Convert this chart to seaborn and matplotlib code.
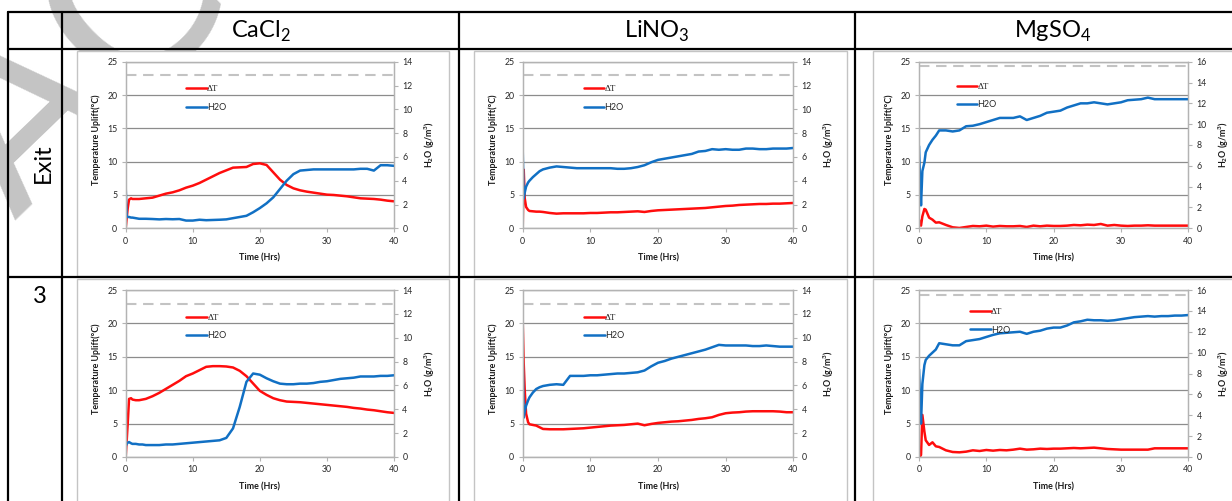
import matplotlib
matplotlib.use("Agg")
import matplotlib.pyplot as plt
import seaborn as sns
from matplotlib.lines import Line2D
from matplotlib.patches import Rectangle

# ---------------------------------------------------------------- data
salts = ["CaCl$_\\mathregular{2}$", "LiNO$_\\mathregular{3}$", "MgSO$_\\mathregular{4}$"]
positions = ["Exit", "3"]

hours = [0, 0.15, 0.3, 0.5, 0.8, 1, 1.5, 2, 2.5, 3,
         4, 5, 6, 7, 8, 9, 10, 11, 12, 13, 14, 15, 16, 17, 18, 19, 20,
         21, 22, 23, 24, 25, 26, 27, 28, 29, 30, 31, 32, 33, 34, 35, 36,
         37, 38, 39, 40]

# temperature uplift (degC)
dT_cacl2_exit = [0, 1.5, 3.0, 4.3, 4.5, 4.4, 4.4, 4.4, 4.45, 4.5,
                 4.6, 4.9, 5.2, 5.4, 5.7, 6.1, 6.4, 6.8, 7.3, 7.8, 8.3, 8.7, 9.1,
                 9.15, 9.2, 9.65, 9.75, 9.5, 8.4, 7.3, 6.5, 6.0, 5.7, 5.5, 5.35,
                 5.2, 5.05, 5.0, 4.9, 4.8, 4.65, 4.5, 4.45, 4.4, 4.3, 4.15, 4.05]
dT_lino3_exit = [0, 8.8, 4.5, 3.2, 2.75, 2.6, 2.55, 2.5, 2.5, 2.45,
                 2.3, 2.2, 2.25, 2.25, 2.25, 2.25, 2.3, 2.3, 2.35, 2.4, 2.4, 2.45,
                 2.5, 2.55, 2.45, 2.6, 2.7, 2.75, 2.8, 2.85, 2.9, 2.95, 3.0, 3.05,
                 3.15, 3.25, 3.35, 3.4, 3.5, 3.55, 3.6, 3.65, 3.65, 3.7, 3.7, 3.75, 3.8]
dT_mgso4_exit = [1.3, 0.6, 0.4, 1.8, 2.9, 2.8, 1.6, 1.3, 0.85, 0.9,
                 0.5, 0.15, 0.05, 0.2, 0.35, 0.3, 0.4, 0.25, 0.35, 0.3, 0.3, 0.35,
                 0.2, 0.4, 0.3, 0.4, 0.35, 0.35, 0.4, 0.5, 0.45, 0.55, 0.5, 0.65,
                 0.4, 0.5, 0.4, 0.35, 0.4, 0.4, 0.45, 0.4, 0.4, 0.4, 0.4, 0.4, 0.4]
dT_cacl2_3 = [0, 2.5, 5.0, 8.7, 8.8, 8.6, 8.5, 8.5, 8.6, 8.7,
              9.1, 9.6, 10.2, 10.8, 11.4, 12.1, 12.5, 13.0, 13.5, 13.6, 13.6, 13.55,
              13.4, 12.9, 12.1, 11.0, 9.9, 9.3, 8.8, 8.5, 8.3, 8.25, 8.2, 8.1, 8.0,
              7.9, 7.8, 7.7, 7.6, 7.5, 7.35, 7.25, 7.1, 7.0, 6.85, 6.7, 6.6]
dT_lino3_3 = [20.3, 14.0, 10.0, 6.5, 5.2, 4.9, 4.8, 4.7, 4.45, 4.2,
              4.15, 4.15, 4.15, 4.2, 4.25, 4.3, 4.4, 4.5, 4.6, 4.7, 4.75, 4.8,
              4.9, 5.0, 4.75, 4.95, 5.1, 5.2, 5.3, 5.35, 5.45, 5.55, 5.7, 5.8,
              5.95, 6.3, 6.55, 6.65, 6.7, 6.8, 6.85, 6.85, 6.85, 6.85, 6.8, 6.7, 6.7]
dT_mgso4_3 = [0, 0.1, 0.3, 6.3, 3.8, 2.5, 1.8, 2.2, 1.6, 1.5,
              1.0, 0.75, 0.7, 0.8, 1.0, 0.9, 1.05, 0.95, 1.05, 1.0, 1.1, 1.25,
              1.1, 1.15, 1.25, 1.2, 1.25, 1.25, 1.3, 1.35, 1.3, 1.35, 1.4, 1.3,
              1.2, 1.15, 1.1, 1.1, 1.1, 1.1, 1.1, 1.3, 1.3, 1.3, 1.3, 1.3, 1.3]

# water content of the outlet air (g/m3)
h2o_cacl2_exit = [3.4, 1.0, 0.95, 0.95, 0.9, 0.9, 0.85, 0.8, 0.8, 0.8,
                  0.78, 0.75, 0.78, 0.76, 0.78, 0.65, 0.65, 0.72, 0.68, 0.7, 0.72,
                  0.75, 0.85, 0.95, 1.05, 1.35, 1.7, 2.1, 2.6, 3.3, 4.0, 4.55, 4.85,
                  4.9, 4.95, 4.95, 4.95, 4.95, 4.95, 4.95, 4.95, 5.0, 5.0, 4.85, 5.3,
                  5.3, 5.25]
h2o_lino3_exit = [6.6, 2.5, 3.0, 3.5, 3.85, 4.0, 4.3, 4.55, 4.8, 4.95,
                  5.1, 5.2, 5.15, 5.1, 5.05, 5.05, 5.05, 5.05, 5.05, 5.05, 5.0, 5.0,
                  5.05, 5.15, 5.3, 5.55, 5.75, 5.85, 5.95, 6.05, 6.15, 6.25, 6.45,
                  6.5, 6.65, 6.6, 6.65, 6.6, 6.6, 6.7, 6.7, 6.65, 6.65, 6.7, 6.7,
                  6.7, 6.75]
h2o_mgso4_exit = [7.9, 4.5, 2.2, 5.5, 6.3, 7.3, 8.0, 8.5, 8.9, 9.4,
                  9.4, 9.3, 9.4, 9.8, 9.85, 10.0, 10.2, 10.4, 10.6, 10.6, 10.6,
                  10.75, 10.4, 10.6, 10.8, 11.1, 11.2, 11.3, 11.6, 11.8, 12.0, 12.0,
                  12.1, 12.0, 11.9, 12.0, 12.1, 12.3, 12.35, 12.4, 12.55, 12.4, 12.4,
                  12.4, 12.4, 12.4, 12.4]
h2o_cacl2_3 = [0.9, 1.1, 1.2, 1.25, 1.15, 1.1, 1.1, 1.05, 1.05, 1.0,
               1.0, 1.0, 1.05, 1.05, 1.1, 1.15, 1.2, 1.25, 1.3, 1.35, 1.4, 1.6,
               2.4, 4.2, 6.3, 7.0, 6.9, 6.6, 6.35, 6.15, 6.1, 6.1, 6.15, 6.15, 6.2,
               6.3, 6.35, 6.45, 6.55, 6.6, 6.65, 6.75, 6.75, 6.75, 6.8, 6.8, 6.85]
h2o_lino3_3 = [8.4, 3.3, 3.8, 4.3, 4.75, 5.0, 5.4, 5.7, 5.85, 5.95,
               6.05, 6.1, 6.05, 6.8, 6.8, 6.8, 6.85, 6.85, 6.9, 6.95, 7.0, 7.0,
               7.05, 7.1, 7.25, 7.6, 7.9, 8.05, 8.25, 8.4, 8.55, 8.7, 8.85, 9.0,
               9.2, 9.4, 9.35, 9.35, 9.35, 9.35, 9.3, 9.3, 9.35, 9.3, 9.25, 9.25,
               9.25]
h2o_mgso4_3 = [8.4, 5.5, 3.2, 7.0, 8.8, 9.3, 9.7, 10.0, 10.3, 10.9,
               10.8, 10.7, 10.7, 11.1, 11.2, 11.3, 11.5, 11.7, 11.85, 11.9, 11.95,
               12.0, 11.8, 12.0, 12.1, 12.3, 12.4, 12.4, 12.6, 12.9, 13.0, 13.15,
               13.1, 13.1, 13.05, 13.1, 13.2, 13.3, 13.4, 13.45, 13.5, 13.45, 13.5,
               13.5, 13.55, 13.55, 13.6]

# inlet humidity reference level (g/m3) and right-axis range per salt
h2o_inlet = [12.85, 12.85, 15.55]
h2o_axis_max = [14, 14, 16]
legend_labels = ["\u0394T", "H2O"]

temperature = [[dT_cacl2_exit, dT_lino3_exit, dT_mgso4_exit],
               [dT_cacl2_3, dT_lino3_3, dT_mgso4_3]]
humidity = [[h2o_cacl2_exit, h2o_lino3_exit, h2o_mgso4_exit],
            [h2o_cacl2_3, h2o_lino3_3, h2o_mgso4_3]]

# ---------------------------------------------------------------- layout (pixels)
W, H = 1232, 501
plot_cols = [(125.7, 394.0), (522.7, 793.3), (919.0, 1188.3)]
plot_rows = [(61.7, 228.3), (290.0, 457.0)]
frame_cols = [(77, 449), (474, 847), (873, 1245)]
frame_rows = [(51, 276), (279, 512)]
table_x = [8, 62, 459, 855]
table_y = [12, 49, 277]
table_right, table_bottom = 1250, 520
# legend anchor (hours, degC of first entry) per panel
legend_at = [[(9.0, 20.75), (9.0, 20.75), (5.6, 21.1)],
             [(9.05, 20.75), (9.1, 20.75), (7.6, 21.6)]]

RED = "#ff0d0d"
BLUE = "#1170c4"
GRID = "#8c8c8c"
SPINE = "#b3b3b3"

sns.set_theme(style="white")
plt.rcParams["font.family"] = ["Lato", "DejaVu Sans"]
plt.rcParams["mathtext.fontset"] = "custom"
plt.rcParams["mathtext.rm"] = "Lato"

fig = plt.figure(figsize=(W / 100, H / 100), dpi=100)
fig.patch.set_facecolor("white")


def fx(x):
    return x / W


def fy(y):
    return 1 - y / H


# watermark behind the table content
fig.text(fx(15), fy(222), "ACCEPTED MANUSCRIPT", rotation=44, rotation_mode="anchor",
         ha="left", va="baseline", fontsize=165, color="#c4c4c4",
         family="DejaVu Sans", zorder=-10)

# table grid
for y in table_y:
    fig.add_artist(Line2D([fx(table_x[0]), fx(table_right)], [fy(y), fy(y)],
                          transform=fig.transFigure, color="black", lw=1.6, zorder=10))
for x in table_x:
    fig.add_artist(Line2D([fx(x), fx(x)], [fy(table_y[0]), fy(table_bottom)],
                          transform=fig.transFigure, color="black", lw=1.6, zorder=10))

# column and row headings
for j, salt in enumerate(salts):
    left = table_x[j + 1]
    right = table_x[j + 2] if j + 2 < len(table_x) else table_right
    fig.text(fx((left + right) / 2), fy(31), salt, ha="center", va="center",
             fontsize=17, color="black", zorder=11)
fig.text(fx(43), fy(163), positions[0], rotation=90, ha="center", va="center",
         fontsize=17, color="black", zorder=11)
fig.text(fx(40), fy(286), positions[1], ha="center", va="top",
         fontsize=17, color="black", zorder=11)

# chart panels
for i in range(2):
    for j in range(3):
        fx0, fx1 = frame_cols[j]
        fy0, fy1 = frame_rows[i]
        fig.add_artist(Rectangle((fx(fx0), fy(fy1)), fx(fx1) - fx(fx0), fy(fy0) - fy(fy1),
                                 transform=fig.transFigure, facecolor="white",
                                 edgecolor="#c4c4c4", lw=1.0, zorder=-5))

        x0, x1 = plot_cols[j]
        y0, y1 = plot_rows[i]
        ax = fig.add_axes([fx(x0), fy(y1), fx(x1) - fx(x0), fy(y0) - fy(y1)])
        ax.set_facecolor("none")
        ax2 = ax.twinx()

        sns.lineplot(x=hours, y=temperature[i][j], ax=ax, color=RED, lw=1.8,
                     estimator=None, legend=False)
        sns.lineplot(x=hours, y=humidity[i][j], ax=ax2, color=BLUE, lw=1.8,
                     estimator=None, legend=False)
        ax2.axhline(h2o_inlet[j], color="#c3c3c3", lw=1.5, dashes=(5, 3.2), zorder=1)

        ax.set_xlim(0, 40)
        ax.set_ylim(0, 25)
        ax.set_xticks([0, 10, 20, 30, 40])
        ax.set_yticks([0, 5, 10, 15, 20, 25])
        ymax = h2o_axis_max[j]
        ax2.set_ylim(0, ymax)
        ax2.set_yticks(range(0, ymax + 1, 2))

        ax.yaxis.grid(True, color=GRID, lw=0.9)
        ax.xaxis.grid(False)
        ax2.grid(False)
        for a in (ax, ax2):
            for s in a.spines.values():
                s.set_color(SPINE)
                s.set_linewidth(0.9)
            a.tick_params(axis="both", which="major", direction="out", length=3,
                          width=0.8, color=SPINE, labelsize=6.3, labelcolor="#262626",
                          pad=3)
        ax.tick_params(axis="y", left=True, right=False)
        ax.tick_params(axis="x", bottom=True)
        ax2.tick_params(axis="y", right=True, left=False)

        ax.set_xlabel("Time (Hrs)", fontsize=6.4, fontweight="bold", color="#1a1a1a")
        ax.set_ylabel("Temperature Uplift(\u00b0C)", fontsize=6.4, fontweight="bold",
                      color="#1a1a1a")
        ax2.set_ylabel("H$_\\mathregular{2}$O (g/m$^\\mathregular{3}$)", fontsize=6.4,
                       fontweight="bold", color="#1a1a1a")
        pw = x1 - x0
        ph = y1 - y0
        ax.xaxis.set_label_coords(0.5, 1 - (y1 + 25.5 - y0) / ph)
        ax.yaxis.set_label_coords((x0 - 24.5 - x0) / pw, 0.53)
        ax2.yaxis.set_label_coords((x1 + 28.5 - x0) / pw, 0.5)

        handles = [Line2D([], [], color=RED, lw=1.8), Line2D([], [], color=BLUE, lw=1.8)]
        lx, ly = legend_at[i][j]
        leg = ax2.legend(handles, legend_labels, loc="upper left",
                         bbox_to_anchor=(lx, ly + 0.75), bbox_transform=ax.transData,
                         frameon=False, fontsize=6.5, handlelength=2.3,
                         handletextpad=0.0, labelspacing=1.05, borderpad=0,
                         borderaxespad=0)
        leg.get_texts()[0].set_family(["Liberation Serif", "DejaVu Serif"])
        leg.get_texts()[0].set_color("#262626")
        leg.get_texts()[1].set_color("#262626")

fig.savefig("out.png", dpi=100, facecolor="white")
